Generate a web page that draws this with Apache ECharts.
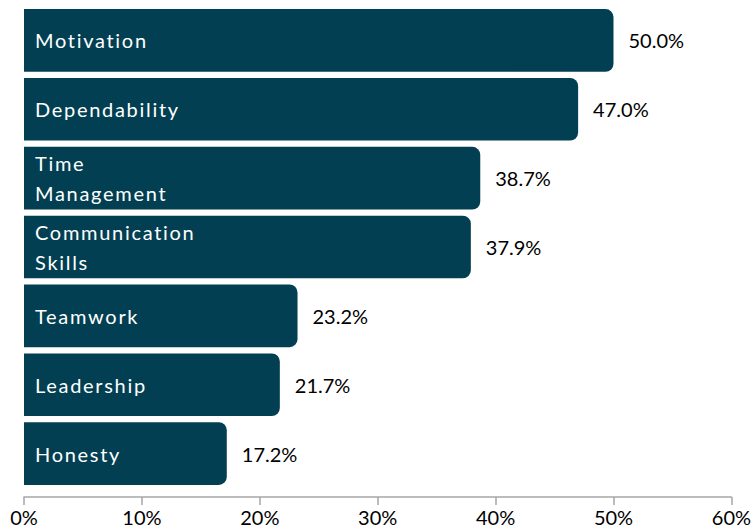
<!DOCTYPE html>
<html>
<head>
<meta charset="utf-8">
<script src="https://cdn.jsdelivr.net/npm/echarts@6/dist/echarts.min.js"></script>
<style>
  html, body { margin: 0; padding: 0; background: #fff; }
  #chart { width: 754px; height: 529px; }
  /* the category names inside the bars are set a little loose */
  #chart svg text[fill="#fff"],
  #chart svg text[fill="#ffffff"],
  #chart svg text[fill="rgb(255,255,255)"] { letter-spacing: 1.7px; }
</style>
</head>
<body>
<div id="chart"></div>
<script>
// Qualities, top to bottom
const categories = [
  'Motivation',
  'Dependability',
  'Time\nManagement',
  'Communication\nSkills',
  'Teamwork',
  'Leadership',
  'Honesty'
];
// Share of respondents, percent
const values = [50.0, 47.0, 38.7, 37.9, 23.2, 21.7, 17.2];
const tickLabels = ['0%', '10%', '20%', '30%', '40%', '50%', '60%'];

const FONT = 'Lato, "Noto Sans", sans-serif';
const chart = echarts.init(document.getElementById('chart'), null, { renderer: 'svg' });

chart.setOption({
  animation: false,
  grid: { left: 24, right: 21, top: 6, bottom: 41, containLabel: false },
  xAxis: {
    type: 'value',
    min: 0,
    max: 60,
    interval: 10,
    offset: 9,
    splitLine: { show: false },
    axisLine: { show: true, lineStyle: { color: '#A6A6A6', width: 1.5 } },
    axisTick: { show: true, length: 8, lineStyle: { color: '#A6A6A6', width: 1.5 } },
    axisLabel: {
      margin: 12,
      fontFamily: FONT,
      fontSize: 20,
      lineHeight: 16,
      color: '#000',
      formatter: function (v) { return tickLabels[Math.round(v / 10)]; }
    }
  },
  yAxis: {
    type: 'category',
    inverse: true,
    data: categories,
    z: 5,
    axisLine: { show: false },
    axisTick: { show: false },
    axisLabel: {
      inside: true,
      margin: 11,
      align: 'left',
      color: '#fff',
      fontFamily: FONT,
      fontSize: 20,
      lineHeight: 30,
      padding: [3, 0, 0, 0]
    }
  },
  series: [{
    type: 'bar',
    data: values,
    barCategoryGap: '9%',
    itemStyle: { color: '#023F52', borderRadius: [0, 8, 8, 0] },
    label: {
      show: true,
      position: 'right',
      distance: 15,
      fontFamily: FONT,
      fontSize: 20,
      color: '#000',
      formatter: function (p) { return p.value.toFixed(1) + '%'; }
    }
  }]
});
</script>
</body>
</html>
